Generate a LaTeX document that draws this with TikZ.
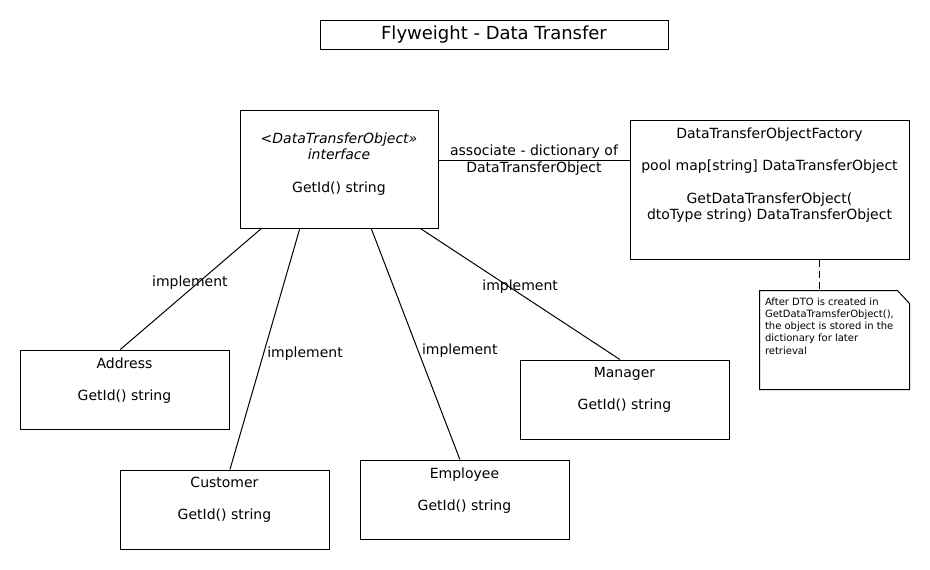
\documentclass[tikz,border=0pt]{standalone}
\usepackage{fontspec}
\setmainfont{DejaVu Sans}
\usetikzlibrary{positioning,calc}

\begin{document}
\begin{tikzpicture}[x=1pt, y=-1pt, line width=1pt,
    font=\fontsize{14}{16.5}\selectfont,
    cls/.style={draw, minimum width=209pt, minimum height=79pt, inner sep=0pt},
    clstext/.style={anchor=north, align=center, inner sep=0pt, yshift=#1},
    clstext/.default=-7.5pt,
    notebox/.style={minimum width=149pt, minimum height=98pt, inner sep=0pt},
    notetext/.style={anchor=north west, align=left, inner sep=0pt,
      xshift=5pt, yshift=-6.7pt, font=\fontsize{10}{12.2}\selectfont},
    dashline/.style={dash pattern=on 7.5pt off 3.5pt}]
  \useasboundingbox (0,0) rectangle (930,570);

  \node[draw, minimum width=348pt, minimum height=29pt,
    font=\fontsize{18}{21}\selectfont] (title) at (494,34.5) {Flyweight - Data Transfer};

  % interface and factory
  \node[cls, minimum width=198pt, minimum height=118pt,
    label={[clstext=-22.7pt]north:{{\itshape <DataTransferObject»}\\{\itshape interface}\\[16pt]GetId() string}}] (iface) at (339,169) {};
  \node[cls, minimum width=279pt, minimum height=139pt,
    label={[clstext]north:{DataTransferObjectFactory\\[16pt]pool map[string] DataTransferObject\\[16pt]GetDataTransferObject(\\dtoType string) DataTransferObject}}] (fac) at (769.5,189.5) {};

  \node[notebox, below left=31pt and 0pt of fac.south east,
    label={[notetext]north west:{After DTO is created in\\GetDataTramsferObject(),\\the object is stored in the\\dictionary for later\\retrieval}}] (note) {};
  \draw (note.north west) -- ([xshift=-12pt]note.north east) -- ([yshift=-13pt]note.north east)
    -- (note.south east) -- (note.south west) -- cycle;

  % concrete types
  \node[cls, label={[clstext]north:{Address\\[15.5pt]GetId() string}}] (addr) at (124.5,389.5) {};
  \node[cls, label={[clstext]north:{Customer\\[15.5pt]GetId() string}}] (cust) at (224.5,509.5) {};
  \node[cls, label={[clstext]north:{Employee\\[15.5pt]GetId() string}}] (empl) at (464.5,499.5) {};
  \node[cls, label={[clstext]north:{Manager\\[15.5pt]GetId() string}}] (mgr) at (624.5,399.5) {};

  \draw ($(iface.east)+(0,-9)$) coordinate (assoc) -- (fac.west |- assoc)
    node[midway, align=center] {associate - dictionary of\\DataTransferObject};

  \coordinate (dtop) at ($(note.north west)!0.4!(note.north east)$);
  \draw[dashline] (fac.south -| dtop) -- (dtop);

  \draw ($(iface.south west)!.11!(iface.south east)$) -- ($(addr.north west)!.48!(addr.north east)$)
    node[pos=.45, xshift=-8pt] {implement};
  \draw ($(iface.south west)!.303!(iface.south east)$) -- ($(cust.north west)!.526!(cust.north east)$)
    node[pos=.52, anchor=west] {implement};
  \draw ($(iface.south west)!.662!(iface.south east)$) -- ($(empl.north west)!.478!(empl.north east)$)
    node[pos=.53, anchor=west] {implement};
  \draw ($(iface.south west)!.909!(iface.south east)$) -- ($(mgr.north west)!.478!(mgr.north east)$)
    node[pos=.44, xshift=12pt] {implement};
\end{tikzpicture}
\end{document}
